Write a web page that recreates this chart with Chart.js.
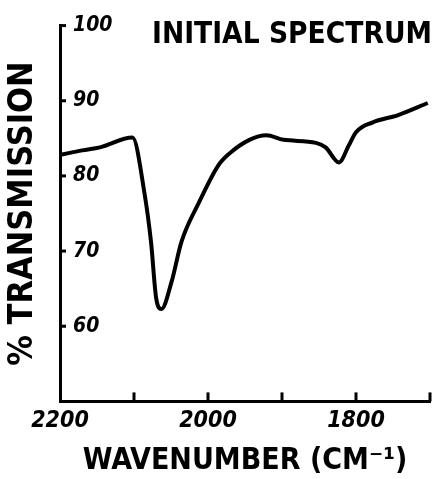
<!DOCTYPE html>
<html>
<head>
<meta charset="utf-8">
<script src="https://cdn.jsdelivr.net/npm/chart.js@4"></script>
<style>
  html, body { margin: 0; padding: 0; background: #fff; }
  #wrap { width: 436px; height: 479px; }
</style>
</head>
<body>
<div id="wrap"><canvas id="irChart" width="436" height="479"></canvas></div>
<script>
// Spectrum data
const wavenumbers = [2200, 2170, 2146, 2102, 2086, 2077, 2070, 2063, 2049, 2036, 2012, 1986, 1972, 1944, 1921, 1898, 1854, 1841, 1823, 1810, 1800, 1778, 1743, 1703];
const transmission = [82.8, 83.4, 83.8, 85.1, 77.8, 71.2, 63.7, 62.3, 66.0, 71.2, 76.5, 81.4, 82.9, 84.8, 85.4, 84.8, 84.4, 83.8, 81.8, 84.0, 85.8, 87.1, 88.1, 89.7];

const xTicks = [2200, 2100, 2000, 1900, 1800, 1700];
const xTickLabels = ['2200', '', '2000', '', '1800', ''];
const yTicks = [60, 70, 80, 90, 100];

const chartTitle = 'INITIAL SPECTRUM';
const xTitle = 'WAVENUMBER (CM\u207B\u00B9)';
const yTitle = '% TRANSMISSION';

const FONT = "'DejaVu Sans Condensed', 'DejaVu Sans', sans-serif";

// inward tick marks + title text
const sketchPlugin = {
  id: 'sketch',
  afterDraw(chart) {
    const ctx = chart.ctx;
    const xs = chart.scales.x, ys = chart.scales.y;
    const area = chart.chartArea;
    ctx.save();
    ctx.strokeStyle = '#000';
    ctx.lineWidth = 3;
    ctx.lineCap = 'butt';
    xTicks.forEach(v => {
      if (v === 2200) return;
      const px = xs.getPixelForValue(v);
      ctx.beginPath();
      ctx.moveTo(px, area.bottom);
      ctx.lineTo(px, area.bottom - 9);
      ctx.stroke();
    });
    yTicks.forEach(v => {
      const py = ys.getPixelForValue(v);
      ctx.beginPath();
      ctx.moveTo(area.left, py);
      ctx.lineTo(area.left + 6, py);
      ctx.stroke();
    });

    // title, squeezed to the width it has in the original
    ctx.fillStyle = '#000';
    ctx.font = 'bold 31px ' + FONT;
    ctx.textBaseline = 'alphabetic';
    const w = ctx.measureText(chartTitle).width;
    ctx.translate(152, 43);
    ctx.scale(280 / w, 1);
    ctx.fillText(chartTitle, 0, 0);
    ctx.restore();
  }
};

const ctx = document.getElementById('irChart').getContext('2d');
new Chart(ctx, {
  type: 'line',
  data: {
    datasets: [{
      data: wavenumbers.map((w, i) => ({ x: w, y: transmission[i] })),
      borderColor: '#000',
      borderWidth: 4,
      pointRadius: 0,
      fill: false,
      cubicInterpolationMode: 'monotone'
    }]
  },
  options: {
    responsive: false,
    animation: false,
    layout: { padding: { left: 0, right: 3, top: 22, bottom: 0 } },
    plugins: { legend: { display: false }, tooltip: { enabled: false } },
    scales: {
      x: {
        type: 'linear',
        reverse: true,
        min: 1700,
        max: 2200,
        afterBuildTicks: (axis) => { axis.ticks = xTicks.map(v => ({ value: v })); },
        ticks: {
          color: '#000',
          padding: 6,
          maxRotation: 0,
          autoSkip: false,
          font: { family: FONT, size: 23, style: 'italic', weight: 'bold' },
          callback: (v) => xTickLabels[xTicks.indexOf(v)] || ''
        },
        grid: { drawOnChartArea: false, drawTicks: false },
        border: { display: true, color: '#000', width: 3 },
        title: {
          display: true,
          text: xTitle,
          color: '#000',
          padding: { top: 2, bottom: 0 },
          font: { family: FONT, size: 30, weight: 'bold' }
        }
      },
      y: {
        min: 50,
        max: 100,
        afterBuildTicks: (axis) => { axis.ticks = yTicks.map(v => ({ value: v })); },
        afterFit: (axis) => { axis.width = 60; },
        ticks: {
          color: '#000',
          mirror: true,
          padding: 13,
          font: { family: FONT, size: 21, style: 'italic', weight: 'bold' }
        },
        grid: { drawOnChartArea: false, drawTicks: false },
        border: { display: true, color: '#000', width: 3 },
        title: {
          display: true,
          text: yTitle,
          color: '#000',
          padding: { top: 3, bottom: 3 },
          font: { family: FONT, size: 34, weight: 'bold' }
        }
      }
    }
  },
  plugins: [sketchPlugin]
});
</script>
</body>
</html>
